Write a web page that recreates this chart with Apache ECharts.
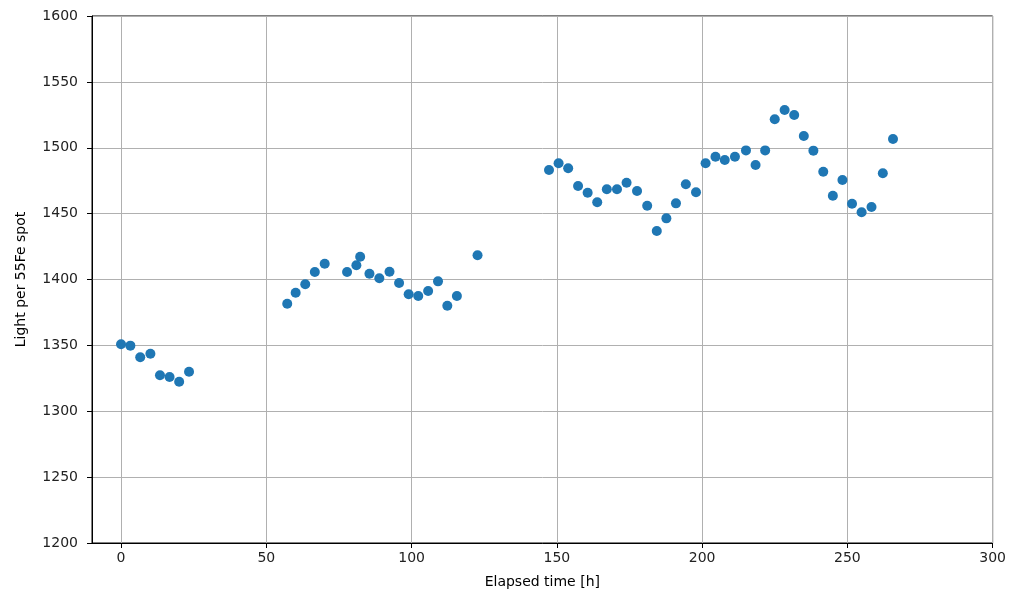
<!DOCTYPE html>
<html>
<head>
<meta charset="utf-8">
<script src="https://cdn.jsdelivr.net/npm/echarts@6/dist/echarts.min.js"></script>
<style>html,body{margin:0;padding:0;background:#fff;}#c{width:1009px;height:594px;}</style>
</head>
<body>
<div id="c"></div>
<script>
const timeH = [0, 3.2, 6.6, 10.1, 13.4, 16.7, 20.0, 23.4,
  57.2, 60.1, 63.4, 66.7, 70.1, 77.8, 81.0, 82.3, 85.5, 88.9, 92.4, 95.7, 99.0, 102.3, 105.7, 109.1, 112.3, 115.6, 122.7,
  147.3, 150.6, 153.9, 157.3, 160.6, 163.9, 167.2, 170.7, 174.0, 177.6, 181.1, 184.4, 187.7, 191.0, 194.4, 197.9,
  201.2, 204.6, 207.8, 211.3, 215.1, 218.4, 221.7, 225.0, 228.4, 231.7, 235.0, 238.3, 241.7, 245.0, 248.3, 251.6, 254.9, 258.3, 262.2, 265.7];
const lightPerSpot = [1350.8, 1349.8, 1341, 1343.7, 1327.3, 1326, 1322.4, 1330.0,
  1381.6, 1390, 1396.4, 1405.7, 1412, 1405.7, 1410.8, 1417.3, 1404.4, 1400.9, 1405.9, 1397.3, 1388.8, 1387.5, 1391.3, 1398.6, 1380.1, 1387.5, 1418.4,
  1483.1, 1488.2, 1484.4, 1471, 1465.9, 1458.6, 1468.5, 1468.5, 1473.5, 1467.2, 1456, 1436.8, 1446.4, 1457.8, 1472.3, 1466.2,
  1488.2, 1493.2, 1490.7, 1493.2, 1498, 1486.9, 1498, 1521.6, 1528.7, 1524.9, 1508.9, 1497.8, 1481.8, 1463.6, 1475.5, 1457.5, 1451, 1455, 1480.6, 1506.6];
const xTicks = [0, 50, 100, 150, 200, 250, 300];
const xName = 'Elapsed time [h]';
const yName = 'Light per 55Fe spot';

const points = timeH.map((t, i) => [t, lightPerSpot[i]]);
const font = 'DejaVu Sans';
const chart = echarts.init(document.getElementById('c'), null, {renderer: 'canvas'});
chart.setOption({
  animation: false,
  backgroundColor: '#fff',
  grid: {left: 92, right: 15, top: 16, bottom: 51, show: true, borderColor: '#000', borderWidth: 1, containLabel: false},
  xAxis: {
    type: 'value', min: -10, max: 300,
    name: xName, nameLocation: 'middle', nameGap: 32,
    nameTextStyle: {fontFamily: font, fontSize: 14, color: '#000'},
    axisLine: {show: true, onZero: false, lineStyle: {color: '#000', width: 1}},
    axisTick: {show: true, inside: false, length: 5, customValues: xTicks, lineStyle: {color: '#000'}},
    axisLabel: {customValues: xTicks, margin: 8, fontFamily: font, fontSize: 14, color: '#222'},
    splitLine: {show: true, lineStyle: {color: '#b0b0b0', width: 1}}
  },
  yAxis: {
    type: 'value', min: 1200, max: 1600, interval: 50,
    name: yName, nameLocation: 'middle', nameGap: 64, nameRotate: 90,
    nameTextStyle: {fontFamily: font, fontSize: 14, color: '#000'},
    axisLine: {show: true, onZero: false, lineStyle: {color: '#000', width: 1}},
    axisTick: {show: true, inside: false, length: 5, lineStyle: {color: '#000'}},
    axisLabel: {margin: 14, fontFamily: font, fontSize: 14, color: '#222', formatter: v => String(v)},
    splitLine: {show: true, lineStyle: {color: '#b0b0b0', width: 1}}
  },
  series: [{
    type: 'scatter',
    data: points,
    symbol: 'circle',
    symbolSize: 10,
    itemStyle: {color: '#1f77b4', opacity: 1}
  }]
});
</script>
</body>
</html>
